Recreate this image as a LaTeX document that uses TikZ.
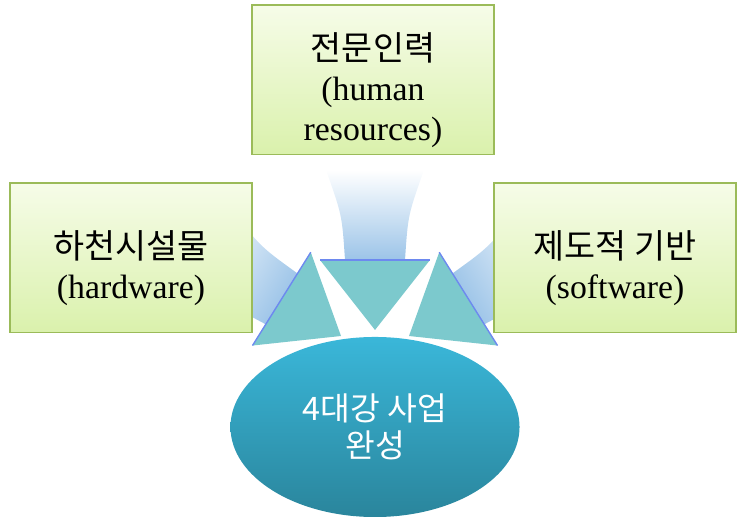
\documentclass[tikz,border=0pt]{standalone}
\usepackage{fontspec}
\setmainfont{Liberation Serif}
\newfontfamily\kr{Noto Sans CJK KR}
\usetikzlibrary{shapes.geometric}
\definecolor{boxline}{HTML}{9BBB59}
\definecolor{boxtop}{HTML}{F6FCE8}
\definecolor{boxbottom}{HTML}{DAF1AC}
\definecolor{headfill}{HTML}{7CC9CD}
\definecolor{shaftfill}{HTML}{9CC4E8}
\definecolor{ovaltop}{HTML}{3AB7D9}
\definecolor{ovalbottom}{HTML}{2A859C}
\newcommand{\hangul}[1]{{\kr\fontsize{24}{28.5}\selectfont #1}}
\newcommand{\lowerstrut}{\rule{0pt}{34pt}}

\begin{document}
\begin{tikzpicture}[
    x=0.025cm, y=-0.025cm,
    factor/.style={rectangle, draw=boxline, line width=1.4pt, top color=boxtop, bottom color=boxbottom, minimum width=6.05cm, minimum height=3.725cm, align=center, font=\fontsize{24}{28.5}\selectfont},
    goalbox/.style={ellipse, top color=ovaltop, bottom color=ovalbottom, minimum width=7.225cm, minimum height=4.5cm, align=center, text=white, font=\kr\fontsize{23}{26.5}\selectfont},
    pics/bigarrow/.style={code={
        \shade[top color=white, bottom color=shaftfill, shading angle=#1] (-49,-160) -- (49,-160) .. controls (33,-115) .. (30,-70) -- (-30,-70) .. controls (-33,-115) .. (-49,-160) -- cycle;
        \fill[headfill] (-55,-70) -- (55,-70) -- (0,0) -- cycle;
        \draw[shaftfill!70!blue, line width=1pt] (-55,-70) -- (55,-70);
    }}
]
    \useasboundingbox (0,0) rectangle (739,517);

    % Arrows
    \coordinate (tipleft) at (341,336);
    \coordinate (tiptop) at (375,330);
    \coordinate (tipright) at (409,336);
    \pic[rotate=58] at (tipleft) {bigarrow=58};
    \pic at (tiptop) {bigarrow=0};
    \pic[rotate=-58] at (tipright) {bigarrow=-58};

    % Factors
    \node[factor] (human) at (373,80) {\lowerstrut\hangul{전문인력}\\(human\\resources)};
    \node[factor] (hardware) at (131,258) {\lowerstrut\hangul{하천시설물}\\(hardware)};
    \node[factor] (software) at (615,258) {\lowerstrut\hangul{제도적 기반}\\(software)};

    % Goal
    \node[goalbox] (goal) at (375,427) {4대강 사업\\완성};
\end{tikzpicture}
\end{document}
